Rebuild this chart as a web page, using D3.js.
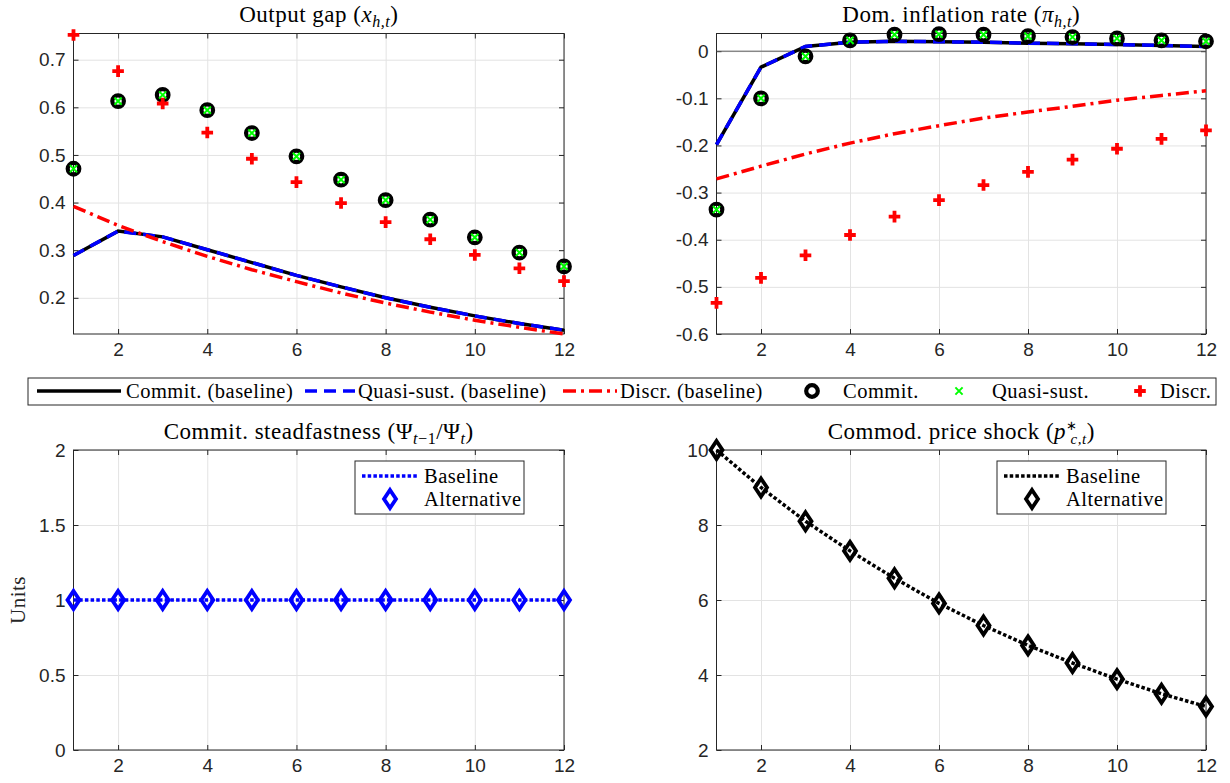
<!DOCTYPE html>
<html lang="en">
<head>
  <meta charset="UTF-8">
  <title>Impulse responses - commodity price shock</title>
  <script src="https://d3js.org/d3.v7.min.js"></script>
  <style>
    body { margin: 0; background: #fff; }
    .tick text { font-family: "Liberation Sans", Arial, sans-serif; font-size: 19px; fill: #262626; }
    .axis .tick line { stroke: #262626; }
    .grid .tick line { stroke: #e3e3e3; }
    .frame { fill: none; stroke: #262626; stroke-width: 1; }
    .title { font-family: "Liberation Serif", serif; font-size: 23px; letter-spacing: 0.5px; fill: #000; text-anchor: middle; }
    .leg-text { font-family: "Liberation Serif", serif; font-size: 20.5px; letter-spacing: 0.5px; fill: #000; }
    .leg-box { fill: #fff; stroke: #262626; stroke-width: 1; }
    .ylab { font-family: "Liberation Serif", serif; font-size: 21px; letter-spacing: 0.5px; fill: #262626; text-anchor: middle; }
  </style>
</head>
<body>
<div id="chart"></div>
<script>
  // horizons
  const periods = [1, 2, 3, 4, 5, 6, 7, 8, 9, 10, 11, 12];
  const xTicks = [2, 4, 6, 8, 10, 12];

  // output gap
  const gapCommitBase = [0.289, 0.340, 0.328, 0.301, 0.274, 0.247, 0.223, 0.200, 0.180, 0.162, 0.146, 0.132];
  const gapQuasiBase  = [0.289, 0.340, 0.328, 0.301, 0.274, 0.247, 0.223, 0.200, 0.180, 0.162, 0.146, 0.132];
  const gapDiscrBase  = [0.392, 0.352, 0.318, 0.287, 0.259, 0.234, 0.210, 0.189, 0.170, 0.153, 0.138, 0.124];
  const gapCommit     = [0.471, 0.613, 0.626, 0.594, 0.546, 0.497, 0.448, 0.405, 0.364, 0.327, 0.295, 0.266];
  const gapQuasi      = [0.471, 0.613, 0.626, 0.594, 0.546, 0.497, 0.448, 0.405, 0.364, 0.327, 0.295, 0.266];
  const gapDiscr      = [0.752, 0.676, 0.608, 0.547, 0.492, 0.443, 0.399, 0.359, 0.323, 0.290, 0.262, 0.235];
  const gapTicks = [0.2, 0.3, 0.4, 0.5, 0.6, 0.7];

  // domestic inflation
  const inflCommitBase = [-0.198, -0.034, 0.010, 0.019, 0.021, 0.020, 0.019, 0.017, 0.016, 0.014, 0.012, 0.010];
  const inflQuasiBase  = [-0.198, -0.034, 0.010, 0.019, 0.021, 0.020, 0.019, 0.017, 0.016, 0.014, 0.012, 0.010];
  const inflDiscrBase  = [-0.271, -0.244, -0.218, -0.195, -0.175, -0.158, -0.142, -0.129, -0.117, -0.104, -0.094, -0.084];
  const inflCommit     = [-0.336, -0.100, -0.011, 0.023, 0.035, 0.036, 0.035, 0.032, 0.030, 0.027, 0.023, 0.021];
  const inflQuasi      = [-0.336, -0.100, -0.011, 0.023, 0.035, 0.036, 0.035, 0.032, 0.030, 0.027, 0.023, 0.021];
  const inflDiscr      = [-0.534, -0.481, -0.433, -0.390, -0.351, -0.316, -0.284, -0.256, -0.230, -0.207, -0.186, -0.168];
  const inflTicks = [-0.6, -0.5, -0.4, -0.3, -0.2, -0.1, 0];

  // commitment steadfastness
  const steadBase = [1, 1, 1, 1, 1, 1, 1, 1, 1, 1, 1, 1];
  const steadAlt  = [1, 1, 1, 1, 1, 1, 1, 1, 1, 1, 1, 1];
  const steadTicks = [0, 0.5, 1, 1.5, 2];

  // commodity price shock
  const shockBase = [10.0, 9.00, 8.10, 7.31, 6.58, 5.91, 5.32, 4.79, 4.32, 3.89, 3.50, 3.16];
  const shockAlt  = [10.0, 9.00, 8.10, 7.31, 6.58, 5.91, 5.32, 4.79, 4.32, 3.89, 3.50, 3.16];
  const shockTicks = [2, 4, 6, 8, 10];

  const svg = d3.select("#chart").append("svg")
    .attr("width", 1230)
    .attr("height", 783);

  const tk = 5;
  const lw = 3.5;

  function makePanel(b, yDomain, yTicks) {
    const x = d3.scaleLinear().domain([1, 12]).range([b.left, b.right]);
    const y = d3.scaleLinear().domain(yDomain).range([b.bottom, b.top]);
    const g = svg.append("g");
    const w = b.right - b.left, h = b.bottom - b.top;

    g.append("g").attr("class", "grid")
      .attr("transform", `translate(0,${b.bottom})`)
      .call(d3.axisBottom(x).tickValues(xTicks).tickSize(-h).tickFormat(""))
      .call(a => a.select(".domain").remove());
    g.append("g").attr("class", "grid")
      .attr("transform", `translate(${b.left},0)`)
      .call(d3.axisLeft(y).tickValues(yTicks).tickSize(-w).tickFormat(""))
      .call(a => a.select(".domain").remove());

    g.append("g").attr("class", "axis")
      .attr("transform", `translate(0,${b.bottom})`)
      .call(d3.axisBottom(x).tickValues(xTicks).tickSizeInner(-tk).tickSizeOuter(0).tickPadding(9))
      .call(a => a.select(".domain").remove());
    g.append("g").attr("class", "axis")
      .attr("transform", `translate(0,${b.top})`)
      .call(d3.axisTop(x).tickValues(xTicks).tickSizeInner(-tk).tickSizeOuter(0).tickFormat(""))
      .call(a => a.select(".domain").remove());
    g.append("g").attr("class", "axis")
      .attr("transform", `translate(${b.left},0)`)
      .call(d3.axisLeft(y).tickValues(yTicks).tickSizeInner(-tk).tickSizeOuter(0).tickPadding(8)
        .tickFormat(d => String(d)))
      .call(a => a.select(".domain").remove());
    g.append("g").attr("class", "axis")
      .attr("transform", `translate(${b.right},0)`)
      .call(d3.axisRight(y).tickValues(yTicks).tickSizeInner(-tk).tickSizeOuter(0).tickFormat(""))
      .call(a => a.select(".domain").remove());

    g.append("rect").attr("class", "frame")
      .attr("x", b.left).attr("y", b.top).attr("width", w).attr("height", h);

    return { g, x, y, b };
  }

  function drawLine(p, values, color, dash) {
    const line = d3.line().x((d, i) => p.x(periods[i])).y(d => p.y(d));
    p.g.append("path")
      .datum(values)
      .attr("d", line)
      .attr("fill", "none")
      .attr("stroke", color)
      .attr("stroke-width", lw)
      .attr("stroke-dasharray", dash);
  }

  // marker shapes
  const diamondPath = "M0,-9L6,0L0,9L-6,0Z";
  function circleMark(sel) {
    sel.append("circle").attr("r", 5.8).attr("fill", "none").attr("stroke", "#000").attr("stroke-width", 4.2);
  }
  function crossMark(sel) {
    sel.append("path").attr("d", "M-3.6,-3.6L3.6,3.6M-3.6,3.6L3.6,-3.6")
      .attr("stroke", "#00ff00").attr("stroke-width", 2).attr("fill", "none");
  }
  function plusMark(sel) {
    sel.append("path").attr("d", "M-5.8,0L5.8,0M0,-5.8L0,5.8")
      .attr("stroke", "#ff0000").attr("stroke-width", 3.8).attr("fill", "none");
  }
  function diamondMark(color) {
    return sel => sel.append("path").attr("d", diamondPath)
      .attr("fill", "none").attr("stroke", color).attr("stroke-width", 3.8);
  }

  function drawMarks(p, values, shape) {
    p.g.append("g").selectAll("g")
      .data(values)
      .join("g")
      .attr("transform", (d, i) => `translate(${p.x(periods[i])},${p.y(d)})`)
      .each(function () { shape(d3.select(this)); });
  }

  function title(cx, ty, parts) {
    const t = svg.append("text").attr("class", "title").attr("x", cx).attr("y", ty);
    parts.forEach(pt => {
      const s = t.append("tspan").text(pt.t);
      if (pt.i) s.attr("font-style", "italic");
      if (pt.s) s.attr("font-size", pt.s);
      if (pt.dy) s.attr("dy", pt.dy);
      if (pt.dx) s.attr("dx", pt.dx);
    });
  }

  const solid = null, dashed = "12,7", dashDot = "13,5,3,5", dotted = "3.5,2.2";

  // ---------- panel 1: output gap
  const p1 = makePanel({ left: 73.5, right: 564, top: 33.5, bottom: 334 }, [0.124, 0.755], gapTicks);
  drawLine(p1, gapCommitBase, "#000", solid);
  drawLine(p1, gapQuasiBase, "#0000ff", dashed);
  drawLine(p1, gapDiscrBase, "#ff0000", dashDot);
  drawMarks(p1, gapCommit, circleMark);
  drawMarks(p1, gapQuasi, crossMark);
  drawMarks(p1, gapDiscr, plusMark);
  title(318.75, 22, [{ t: "Output gap (" }, { t: "x", i: 1 }, { t: "h,t", i: 1, s: "70%", dy: 5 }, { t: ")", dy: -5 }]);

  // ---------- panel 2: domestic inflation
  const p2 = makePanel({ left: 716.5, right: 1206, top: 33.5, bottom: 334 }, [-0.6, 0.0375], inflTicks);
  p2.g.append("line")
    .attr("x1", p2.x(1)).attr("x2", p2.x(12))
    .attr("y1", p2.y(0)).attr("y2", p2.y(0))
    .attr("stroke", "#5a5a5a").attr("stroke-width", 1);
  drawLine(p2, inflCommitBase, "#000", solid);
  drawLine(p2, inflQuasiBase, "#0000ff", dashed);
  drawLine(p2, inflDiscrBase, "#ff0000", dashDot);
  drawMarks(p2, inflCommit, circleMark);
  drawMarks(p2, inflQuasi, crossMark);
  drawMarks(p2, inflDiscr, plusMark);
  title(961.25, 22, [{ t: "Dom. inflation rate (" }, { t: "π", i: 1 }, { t: "h,t", i: 1, s: "70%", dy: 5 }, { t: ")", dy: -5 }]);

  // ---------- panel 3: steadfastness
  const p3 = makePanel({ left: 73.5, right: 564, top: 450, bottom: 750 }, [0, 2], steadTicks);
  drawLine(p3, steadBase, "#0000ff", dotted);
  drawMarks(p3, steadAlt, diamondMark("#0000ff"));
  title(318.75, 439, [{ t: "Commit. steadfastness (Ψ" }, { t: "t", i: 1, s: "70%", dy: 5 }, { t: "−1", s: "70%" },
    { t: "/Ψ", dy: -5 }, { t: "t", i: 1, s: "70%", dy: 5 }, { t: ")", dy: -5 }]);
  svg.append("text").attr("class", "ylab")
    .attr("transform", `translate(25,600) rotate(-90)`)
    .text("Units");

  // ---------- panel 4: commodity price shock
  const p4 = makePanel({ left: 716.5, right: 1206, top: 450, bottom: 750 }, [2, 10], shockTicks);
  drawLine(p4, shockBase, "#000", dotted);
  drawMarks(p4, shockAlt, diamondMark("#000"));
  title(961.25, 439, [{ t: "Commod. price shock (" }, { t: "p", i: 1 }, { t: "∗", s: "55%", dy: -9 },
    { t: "c,t", i: 1, s: "65%", dy: 14, dx: -7 }, { t: ")", dy: -5 }]);

  // ---------- small legends
  function smallLegend(p, color) {
    const bx = p.b.right - 209, by = p.b.top + 11;
    const lg = svg.append("g");
    lg.append("rect").attr("class", "leg-box").attr("x", bx).attr("y", by).attr("width", 169).attr("height", 53);
    lg.append("line").attr("x1", bx + 7).attr("x2", bx + 62).attr("y1", by + 15).attr("y2", by + 15)
      .attr("stroke", color).attr("stroke-width", lw).attr("stroke-dasharray", dotted);
    lg.append("text").attr("class", "leg-text").attr("x", bx + 69).attr("y", by + 22).text("Baseline");
    lg.append("g").attr("transform", `translate(${bx + 35},${by + 38})`).call(diamondMark(color));
    lg.append("text").attr("class", "leg-text").attr("x", bx + 69).attr("y", by + 45).text("Alternative");
  }
  smallLegend(p3, "#0000ff");
  smallLegend(p4, "#000");

  // ---------- shared legend
  const lgY = 391;
  const leg = svg.append("g");
  leg.append("rect").attr("class", "leg-box").attr("x", 28).attr("y", 378).attr("width", 1188).attr("height", 27);
  const lineItems = [
    { x0: 37, x1: 121, color: "#000", dash: solid, tx: 126, label: "Commit. (baseline)" },
    { x0: 305, x1: 355, color: "#0000ff", dash: dashed, tx: 358, label: "Quasi-sust. (baseline)" },
    { x0: 563, x1: 617, color: "#ff0000", dash: dashDot, tx: 620, label: "Discr. (baseline)" }
  ];
  lineItems.forEach(it => {
    leg.append("line").attr("x1", it.x0).attr("x2", it.x1).attr("y1", lgY).attr("y2", lgY)
      .attr("stroke", it.color).attr("stroke-width", lw).attr("stroke-dasharray", it.dash);
    leg.append("text").attr("class", "leg-text").attr("x", it.tx).attr("y", lgY + 7).text(it.label);
  });
  const markItems = [
    { mx: 812, shape: circleMark, tx: 843, label: "Commit." },
    { mx: 959, shape: crossMark, tx: 992, label: "Quasi-sust." },
    { mx: 1140, shape: plusMark, tx: 1160, label: "Discr." }
  ];
  markItems.forEach(it => {
    leg.append("g").attr("transform", `translate(${it.mx},${lgY})`).call(it.shape);
    leg.append("text").attr("class", "leg-text").attr("x", it.tx).attr("y", lgY + 7).text(it.label);
  });
</script>
</body>
</html>
